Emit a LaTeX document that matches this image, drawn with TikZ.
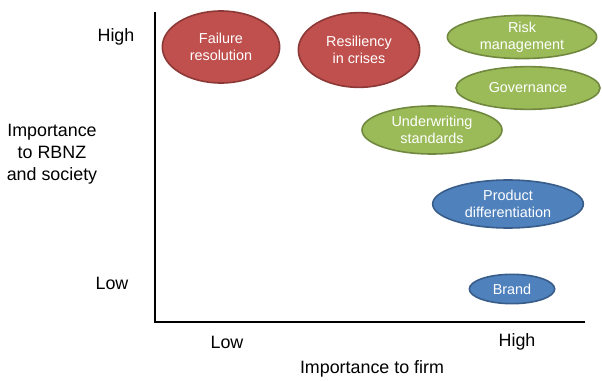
\documentclass[tikz,border=0pt]{standalone}
\usepackage{fontspec}
\setmainfont{Liberation Sans}
\usetikzlibrary{shapes.geometric}

\definecolor{redfill}{RGB}{192,80,77}
\definecolor{reddraw}{RGB}{140,56,54}
\definecolor{greenfill}{RGB}{155,187,89}
\definecolor{greendraw}{RGB}{113,137,63}
\definecolor{bluefill}{RGB}{79,129,189}
\definecolor{bluedraw}{RGB}{56,93,138}

\tikzset{
  blob/.style={ellipse, inner sep=0pt, align=center, text=white, line width=1.2pt,
    font=\fontsize{10.8}{12.8}\selectfont},
  redblob/.style={blob, fill=redfill, draw=reddraw},
  greenblob/.style={blob, fill=greenfill, draw=greendraw},
  blueblob/.style={blob, fill=bluefill, draw=bluedraw},
  axislabel/.style={align=center, font=\fontsize{13.4}{16.5}\selectfont}
}

\begin{document}
\begin{tikzpicture}[x=0.75pt, y=-0.75pt]
        \useasboundingbox (0,0) rectangle (602,381);

        \coordinate (O) at (155, 322);
        \coordinate (T) at (155, 12);
        \coordinate (R) at (585, 322);

        \draw[line width=1pt] (T) -- (O) -- (R);

        \node[axislabel] (yhigh) at (116, 37) {High};
        \node[axislabel] (ylow) at (112, 283) {Low};
        \node[axislabel] (ytitle) at (52, 154) {Importance\\to RBNZ\\and society};
        \node[axislabel] (xlow) at (227, 342) {Low};
        \node[axislabel] (xhigh) at (517, 342) {High};
        \node[axislabel] (xtitle) at (372, 369) {Importance to firm};

        \node[redblob, minimum width=88pt, minimum height=54pt] (failure) at (221, 47) {Failure\\resolution};
        \node[redblob, minimum width=91pt, minimum height=56pt] (resiliency) at (359, 50) {Resiliency\\in crises};
        \node[greenblob, minimum width=112pt, minimum height=32pt] (risk) at (522, 37) {Risk\\management};
        \node[greenblob, minimum width=108pt, minimum height=32pt] (governance) at (528, 88) {Governance};
        \node[greenblob, minimum width=105pt, minimum height=36pt] (underwriting) at (432, 130) {Underwriting\\standards};
        \node[blueblob, minimum width=113pt, minimum height=36pt] (product) at (508, 204) {Product\\differentiation};
        \node[blueblob, minimum width=64pt, minimum height=22pt] (brand) at (512, 289) {Brand};

    \end{tikzpicture}
\end{document}
